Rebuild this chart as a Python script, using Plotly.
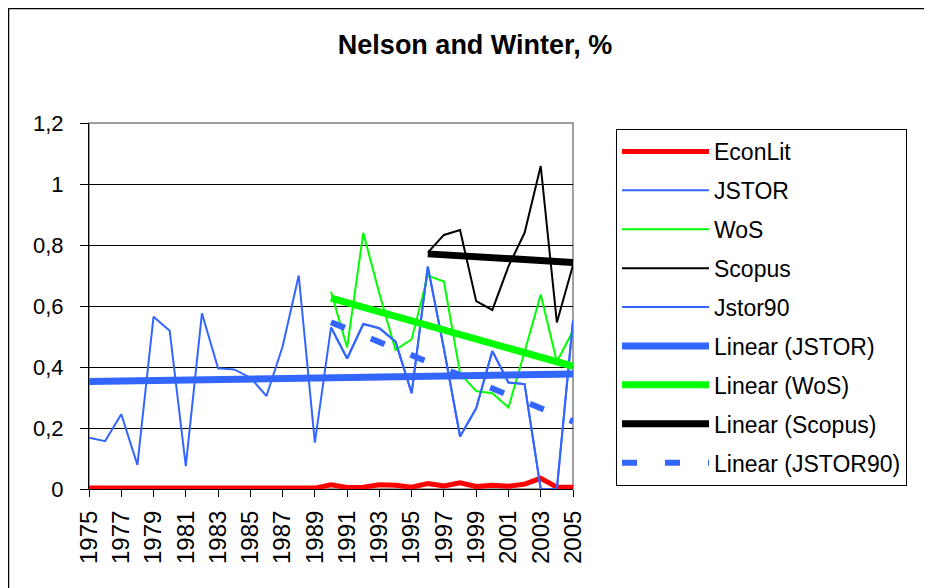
import numpy as np
import plotly.graph_objects as go

years = [1975, 1976, 1977, 1978, 1979, 1980, 1981, 1982, 1983, 1984, 1985, 1986,
         1987, 1988, 1989, 1990, 1991, 1992, 1993, 1994, 1995, 1996, 1997, 1998,
         1999, 2000, 2001, 2002, 2003, 2004, 2005]

econlit = [0.003, 0.003, 0.003, 0.003, 0.003, 0.003, 0.003, 0.003, 0.003, 0.003,
           0.003, 0.003, 0.003, 0.003, 0.003, 0.014, 0.005, 0.006, 0.014, 0.012,
           0.006, 0.018, 0.010, 0.020, 0.008, 0.012, 0.009, 0.016, 0.035, 0.006, 0.006]

jstor = [0.168, 0.157, 0.245, 0.079, 0.565, 0.519, 0.075, 0.576, 0.396, 0.392,
         0.365, 0.305, 0.467, 0.700, 0.152, 0.530, 0.428, 0.541, 0.527, 0.483,
         0.314, 0.729, 0.460, 0.172, 0.265, 0.452, 0.349, 0.344, 0.0, 0.0, 0.552]

wos_years = [1990, 1991, 1992, 1993, 1994, 1995, 1996, 1997, 1998, 1999, 2000,
             2001, 2002, 2003, 2004, 2005]
wos = [0.647, 0.464, 0.840, 0.640, 0.456, 0.491, 0.700, 0.680, 0.379, 0.321,
       0.314, 0.267, 0.450, 0.638, 0.417, 0.519]

scopus_years = [1996, 1997, 1998, 1999, 2000, 2001, 2002, 2003, 2004, 2005]
scopus = [0.775, 0.833, 0.849, 0.616, 0.587, 0.730, 0.840, 1.059, 0.546, 0.734]

jstor90_years = [1990, 1991, 1992, 1993, 1994, 1995, 1996, 1997, 1998, 1999,
                 2000, 2001, 2002, 2003, 2004, 2005]
jstor90 = [0.530, 0.428, 0.541, 0.527, 0.483, 0.314, 0.729, 0.460, 0.172, 0.265,
           0.452, 0.349, 0.344, 0.0, 0.0, 0.552]

y_ticks = [0, 0.2, 0.4, 0.6, 0.8, 1.0, 1.2]
x_ticks = years[::2]

RED = "#FF0000"
BLUE = "#3366FF"
GREEN = "#00FF00"
BLACK = "#000000"
FONT = "Liberation Sans, Arial, sans-serif"


def trend(xs, ys):
    xs = np.asarray(xs, dtype=float)
    k, b = np.polyfit(xs, np.asarray(ys, dtype=float), 1)
    return list(xs), list(k * xs + b)


fig = go.Figure()


def add(x, y, name, color, width, dash="solid"):
    fig.add_trace(go.Scatter(
        x=x, y=y, name=name, mode="lines",
        line=dict(color=color, width=width, dash=dash),
        legendgroup=name,
    ))


add(years, econlit, "EconLit", RED, 5)
add(years, jstor, "JSTOR", BLUE, 2)
add(wos_years, wos, "WoS", GREEN, 2)
add(scopus_years, scopus, "Scopus", BLACK, 2)
add(jstor90_years, jstor90, "Jstor90", BLUE, 2)
tx, ty = trend(years, jstor)
add(tx, ty, "Linear (JSTOR)", BLUE, 7)
tx, ty = trend(wos_years, wos)
add(tx, ty, "Linear (WoS)", GREEN, 7)
tx, ty = trend(scopus_years, scopus)
add(tx, ty, "Linear (Scopus)", BLACK, 7)
tx, ty = trend(jstor90_years, jstor90)
add(tx, ty, "Linear (JSTOR90)", BLUE, 6, dash="15px,28px")

# page offset (browser body margin)
OFF = 8
W, H = 932, 588
# plot-area edges in screen pixels
SL, SR, ST, SB = 89, 573, 123, 489
L, R, T, B = SL - OFF, SR - OFF, ST - OFF, SB - OFF
pw, ph = R - L, B - T


def px(x):
    return (x - OFF - L) / pw


def py(y):
    return (B - (y - OFF)) / ph


fig.update_layout(
    width=W, height=H,
    margin=dict(l=L, r=W - R, t=T, b=H - B, pad=0),
    paper_bgcolor="white", plot_bgcolor="white",
    separators=", ",
    font=dict(family=FONT, size=22, color="black"),
    title=dict(text="<b>Nelson and Winter, %</b>", x=(475 - OFF) / W, xref="container",
               xanchor="center", y=1 - (45 - OFF) / H, yref="container", yanchor="middle",
               font=dict(family=FONT, size=27, color="black")),
    showlegend=True,
    legend=dict(
        xref="container", yref="container",
        x=(616 - OFF) / W, y=1 - (129 - OFF) / H, xanchor="left", yanchor="top",
        bordercolor="black", borderwidth=1, bgcolor="white",
        font=dict(family=FONT, size=23, color="black"),
        tracegroupgap=6, itemwidth=87, maxheight=560,
        traceorder="grouped",
    ),
    xaxis=dict(
        range=[1975, 2005], tickmode="array", tickvals=x_ticks,
        ticktext=[str(v) for v in x_ticks], tickangle=-90,
        ticks="outside", ticklen=7, tickcolor="black", tickwidth=1,
        ticklabelstandoff=4,
        showgrid=False, zeroline=False,
        showline=True, linecolor="black", linewidth=1,
        tickfont=dict(family=FONT, size=24, color="black"),
    ),
    yaxis=dict(
        range=[0, 1.2], tickmode="array", tickvals=y_ticks,
        ticks="outside", ticklen=8, tickcolor="black", tickwidth=1,
        ticklabelstandoff=12,
        showgrid=True, gridcolor="black", gridwidth=1,
        zeroline=False, showline=True, linecolor="black", linewidth=1,
        tickfont=dict(family=FONT, size=22, color="black"),
    ),
    shapes=[
        dict(type="rect", xref="paper", yref="paper", x0=0, y0=0, x1=1, y1=1,
             line=dict(color="#808080", width=1.5), layer="below"),
        dict(type="rect", xref="paper", yref="paper",
             x0=px(8.5), y0=py(8.5), x1=px(W + 20), y1=py(H + 20),
             line=dict(color="black", width=1.5), layer="below"),
    ],
)

fig.write_html("out.html")
